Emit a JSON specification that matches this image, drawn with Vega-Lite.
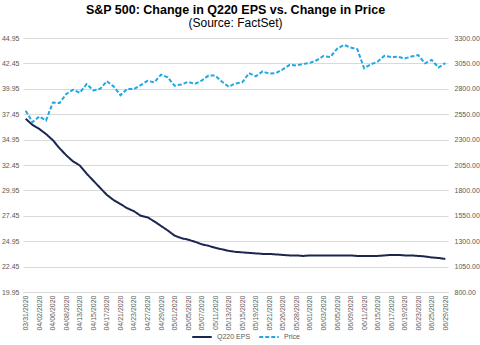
{
  "$schema": "https://vega.github.io/schema/vega-lite/v6.json",
  "width": 480,
  "height": 345,
  "autosize": {"type": "fit", "contains": "padding"},
  "padding": {"left": 1, "top": 3, "right": 0, "bottom": 14},
  "background": "white",
  "title": {
    "text": "S&P 500: Change in Q220 EPS vs. Change in Price",
    "subtitle": "(Source: FactSet)",
    "fontSize": 12.5,
    "fontWeight": "bold",
    "subtitleFontSize": 12,
    "subtitleColor": "#000000",
    "subtitlePadding": 2,
    "color": "#000000",
    "anchor": "middle",
    "offset": 5
  },
  "data": {
    "values": [
      {"date": "03/31/2020", "eps": 37.0, "price": 2584.6},
      {"date": "04/01/2020", "eps": 36.4, "price": 2470.5},
      {"date": "04/02/2020", "eps": 36.0, "price": 2526.9},
      {"date": "04/03/2020", "eps": 35.5, "price": 2488.7},
      {"date": "04/06/2020", "eps": 34.9, "price": 2663.7},
      {"date": "04/07/2020", "eps": 34.1, "price": 2659.4},
      {"date": "04/08/2020", "eps": 33.4, "price": 2750.0},
      {"date": "04/09/2020", "eps": 32.8, "price": 2789.8},
      {"date": "04/13/2020", "eps": 32.4, "price": 2761.6},
      {"date": "04/14/2020", "eps": 31.6, "price": 2846.1},
      {"date": "04/15/2020", "eps": 30.9, "price": 2783.4},
      {"date": "04/16/2020", "eps": 30.2, "price": 2799.6},
      {"date": "04/17/2020", "eps": 29.5, "price": 2874.6},
      {"date": "04/20/2020", "eps": 29.0, "price": 2823.2},
      {"date": "04/21/2020", "eps": 28.6, "price": 2736.6},
      {"date": "04/22/2020", "eps": 28.2, "price": 2799.3},
      {"date": "04/23/2020", "eps": 27.9, "price": 2797.8},
      {"date": "04/24/2020", "eps": 27.45, "price": 2836.7},
      {"date": "04/27/2020", "eps": 27.3, "price": 2878.5},
      {"date": "04/28/2020", "eps": 26.9, "price": 2863.4},
      {"date": "04/29/2020", "eps": 26.45, "price": 2939.5},
      {"date": "04/30/2020", "eps": 26.0, "price": 2912.4},
      {"date": "05/01/2020", "eps": 25.5, "price": 2830.7},
      {"date": "05/04/2020", "eps": 25.25, "price": 2842.7},
      {"date": "05/05/2020", "eps": 25.1, "price": 2868.4},
      {"date": "05/06/2020", "eps": 24.9, "price": 2848.4},
      {"date": "05/07/2020", "eps": 24.65, "price": 2881.2},
      {"date": "05/08/2020", "eps": 24.5, "price": 2929.8},
      {"date": "05/11/2020", "eps": 24.3, "price": 2930.3},
      {"date": "05/12/2020", "eps": 24.15, "price": 2870.1},
      {"date": "05/13/2020", "eps": 24.0, "price": 2820.0},
      {"date": "05/14/2020", "eps": 23.9, "price": 2852.5},
      {"date": "05/15/2020", "eps": 23.85, "price": 2863.7},
      {"date": "05/18/2020", "eps": 23.8, "price": 2953.9},
      {"date": "05/19/2020", "eps": 23.75, "price": 2922.9},
      {"date": "05/20/2020", "eps": 23.7, "price": 2971.6},
      {"date": "05/21/2020", "eps": 23.7, "price": 2948.5},
      {"date": "05/22/2020", "eps": 23.65, "price": 2955.5},
      {"date": "05/26/2020", "eps": 23.6, "price": 2991.8},
      {"date": "05/27/2020", "eps": 23.55, "price": 3036.1},
      {"date": "05/28/2020", "eps": 23.55, "price": 3029.7},
      {"date": "05/29/2020", "eps": 23.5, "price": 3044.3},
      {"date": "06/01/2020", "eps": 23.55, "price": 3055.7},
      {"date": "06/02/2020", "eps": 23.55, "price": 3080.8},
      {"date": "06/03/2020", "eps": 23.55, "price": 3122.9},
      {"date": "06/04/2020", "eps": 23.55, "price": 3112.4},
      {"date": "06/05/2020", "eps": 23.55, "price": 3193.9},
      {"date": "06/08/2020", "eps": 23.55, "price": 3232.4},
      {"date": "06/09/2020", "eps": 23.55, "price": 3207.2},
      {"date": "06/10/2020", "eps": 23.5, "price": 3190.1},
      {"date": "06/11/2020", "eps": 23.5, "price": 3002.1},
      {"date": "06/12/2020", "eps": 23.5, "price": 3041.3},
      {"date": "06/15/2020", "eps": 23.5, "price": 3066.6},
      {"date": "06/16/2020", "eps": 23.55, "price": 3124.7},
      {"date": "06/17/2020", "eps": 23.6, "price": 3113.5},
      {"date": "06/18/2020", "eps": 23.6, "price": 3115.3},
      {"date": "06/19/2020", "eps": 23.55, "price": 3097.7},
      {"date": "06/22/2020", "eps": 23.55, "price": 3117.9},
      {"date": "06/23/2020", "eps": 23.5, "price": 3131.3},
      {"date": "06/24/2020", "eps": 23.45, "price": 3050.3},
      {"date": "06/25/2020", "eps": 23.35, "price": 3083.8},
      {"date": "06/26/2020", "eps": 23.3, "price": 3009.1},
      {"date": "06/29/2020", "eps": 23.2, "price": 3053.2}
    ]
  },
  "encoding": {
    "x": {
      "field": "date",
      "type": "ordinal",
      "sort": null,
      "scale": {"type": "point", "padding": 0.4},
      "axis": {
        "title": null,
        "labelAngle": -90,
        "labelAlign": "right",
        "labelBaseline": "middle",
        "labelPadding": 3,
        "domain": true,
        "domainColor": "#d9d9d9",
        "domainWidth": 1,
        "grid": false,
        "values": ["03/31/2020","04/02/2020","04/06/2020","04/08/2020","04/13/2020","04/15/2020","04/17/2020","04/21/2020","04/23/2020","04/27/2020","04/29/2020","05/01/2020","05/05/2020","05/07/2020","05/11/2020","05/13/2020","05/15/2020","05/19/2020","05/21/2020","05/26/2020","05/28/2020","06/01/2020","06/03/2020","06/05/2020","06/09/2020","06/11/2020","06/15/2020","06/17/2020","06/19/2020","06/23/2020","06/25/2020","06/29/2020"]
      }
    }
  },
  "layer": [
    {
      "mark": {"type": "line", "strokeWidth": 2, "strokeCap": "butt"},
      "encoding": {
        "y": {
          "field": "eps",
          "type": "quantitative",
          "scale": {"domain": [19.95, 44.95], "nice": false, "zero": false},
          "axis": {
            "title": null,
            "orient": "left",
            "format": ".2f",
            "values": [19.95, 22.45, 24.95, 27.45, 29.95, 32.45, 34.95, 37.45, 39.95, 42.45, 44.95],
            "grid": true,
            "gridColor": "#d9d9d9",
            "gridWidth": 1,
            "labelPadding": 4
          }
        },
        "color": {"datum": "Q220 EPS", "type": "nominal", "scale": {"domain": ["Q220 EPS", "Price"], "range": ["#1b2550", "#22a7e2"]}, "legend": {"title": null, "orient": "none", "legendX": 168, "legendY": 288, "direction": "horizontal"}},
        "strokeDash": {"datum": "Q220 EPS", "type": "nominal", "scale": {"domain": ["Q220 EPS", "Price"], "range": [[1, 0], [4, 2]]}, "legend": {"title": null, "orient": "none", "legendX": 168, "legendY": 288, "direction": "horizontal"}}
      }
    },
    {
      "mark": {"type": "line", "strokeWidth": 2, "strokeCap": "butt"},
      "encoding": {
        "y": {
          "field": "price",
          "type": "quantitative",
          "scale": {"domain": [800, 3300], "nice": false, "zero": false},
          "axis": {
            "title": null,
            "orient": "right",
            "format": ".2f",
            "values": [800, 1050, 1300, 1550, 1800, 2050, 2300, 2550, 2800, 3050, 3300],
            "grid": false,
            "labelPadding": 6
          }
        },
        "color": {"datum": "Price", "type": "nominal"},
        "strokeDash": {"datum": "Price", "type": "nominal"}
      }
    }
  ],
  "resolve": {"scale": {"y": "independent"}},
  "config": {
    "font": "Liberation Sans",
    "view": {"stroke": null},
    "axis": {"labelFont": "Liberation Sans", "labelColor": "#595959", "labelFontSize": 7, "ticks": false, "domain": false},
    "legend": {
      "labelFont": "Liberation Sans",
      "labelFontSize": 7,
      "labelColor": "#595959",
      "symbolType": "stroke",
      "symbolSize": 380,
      "symbolStrokeWidth": 2,
      "columnPadding": 4,
      "padding": 0
    }
  }
}
